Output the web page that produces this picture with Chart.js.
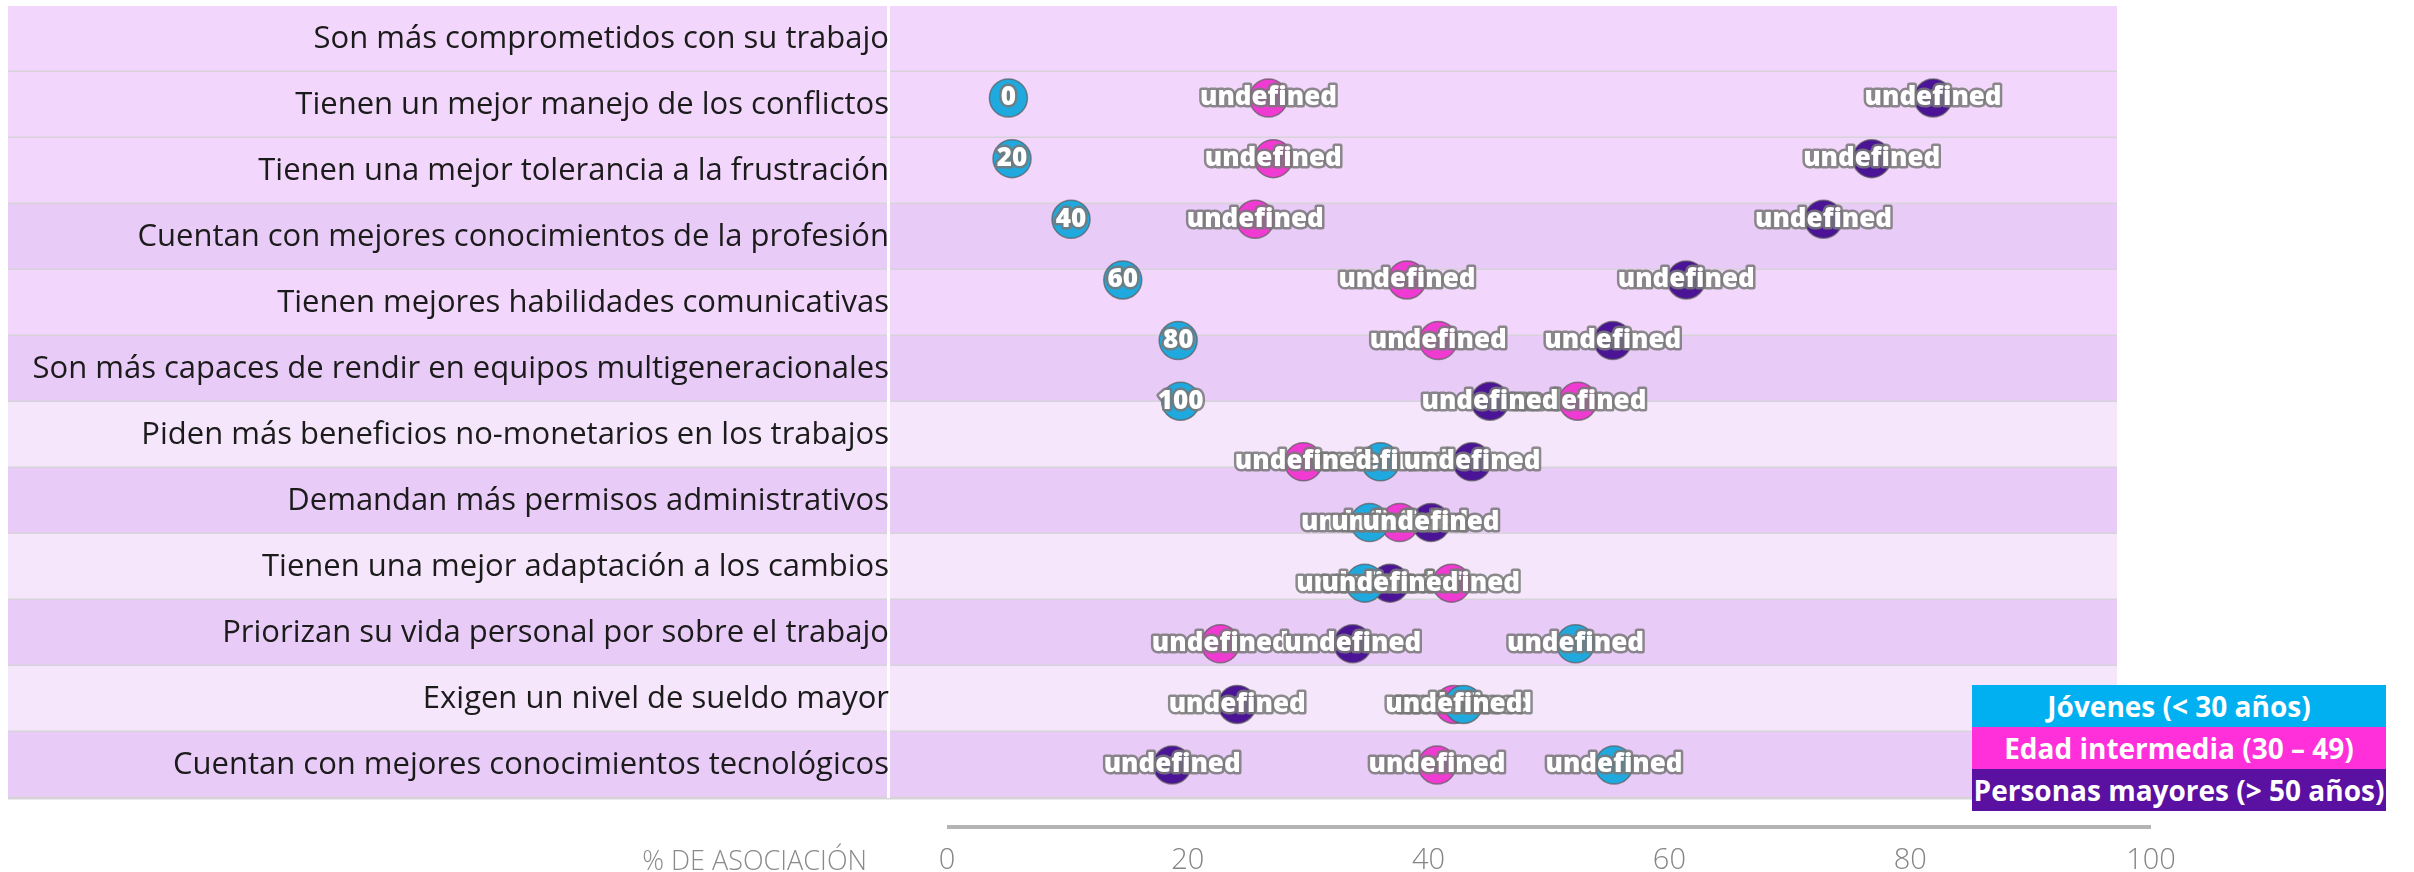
<!DOCTYPE html>
<html lang="es">
<head>
<meta charset="utf-8">
<title>Asociación por generación</title>
<script src="https://cdn.jsdelivr.net/npm/chart.js@4.4.1/dist/chart.umd.min.js"></script>
<style>
    html, body { margin: 0; padding: 0; background: #fff; }
    #wrap { position: relative; width: 2414px; height: 872px; overflow: hidden; font-family: 'Open Sans', sans-serif; }
    #grafico { position: absolute; left: 0; top: 0; }
    .eje-titulo { position: absolute; right: 1547px; top: 843px; line-height: 34px; font-size: 27px; font-weight: 300; color: #8a8a8a; white-space: nowrap; }
    .leyenda { position: absolute; left: 1972px; top: 685px; width: 414px; }
    .leyenda div { height: 42px; line-height: 42px; text-align: center; color: #fff; font-weight: 700; font-size: 28px; white-space: nowrap; overflow: hidden; }
</style>
</head>
<body>
<div id="wrap">
    <canvas id="grafico" width="2414" height="872"></canvas>
    <div class="eje-titulo">% DE ASOCIACIÓN</div>
    <div class="leyenda">
        <div style="background:#00b0f0">Jóvenes (&lt; 30 años)</div>
        <div style="background:#ff2fd9">Edad intermedia (30 – 49)</div>
        <div style="background:#5a10a0">Personas mayores (&gt; 50 años)</div>
    </div>
</div>
<script>
// categorías (filas)
const categorias = [
    'Son más comprometidos con su trabajo',
    'Tienen un mejor manejo de los conflictos',
    'Tienen una mejor tolerancia a la frustración',
    'Cuentan con mejores conocimientos de la profesión',
    'Tienen mejores habilidades comunicativas',
    'Son más capaces de rendir en equipos multigeneracionales',
    'Piden más beneficios no-monetarios en los trabajos',
    'Demandan más permisos administrativos',
    'Tienen una mejor adaptación a los cambios',
    'Priorizan su vida personal por sobre el trabajo',
    'Exigen un nivel de sueldo mayor',
    'Cuentan con mejores conocimientos tecnológicos'
];

// % de asociación por grupo de edad
const jovenes    = [5.1, 5.4, 10.3, 14.6, 19.2, 19.4, 36.0, 35.1, 34.7, 52.2, 42.9, 55.4];
const intermedia = [26.7, 27.1, 25.6, 38.2, 40.8, 52.4, 29.6, 37.6, 41.9, 22.7, 42.1, 40.7];
const mayores    = [81.9, 76.8, 72.8, 61.4, 55.3, 45.1, 43.6, 40.2, 36.8, 33.7, 24.1, 18.7];

// textos sobre cada punto
const etiquetasJovenes = ['0', '20', '40', '60', '80', '100',
    'undefined', 'undefined', 'undefined', 'undefined', 'undefined', 'undefined'];
const etiquetasIntermedia = ['undefined', 'undefined', 'undefined', 'undefined', 'undefined', 'undefined',
    'undefined', 'undefined', 'undefined', 'undefined', 'undefined', 'undefined'];
const etiquetasMayores = ['undefined', 'undefined', 'undefined', 'undefined', 'undefined', 'undefined',
    'undefined', 'undefined', 'undefined', 'undefined', 'undefined', 'undefined'];

// ticks del eje x
const ticksX = [0, 20, 40, 60, 80, 100];

// estilo de las filas
const coloresFila = ['#f2d6fb', '#f2d6fb', '#f2d6fb', '#e9cbf7', '#f2d6fb', '#e9cbf7',
    '#f5e6fc', '#e9cbf7', '#f5e6fc', '#e9cbf7', '#f5e6fc', '#e9cbf7'];

const FUENTE = "'Open Sans', sans-serif";

// fondo de filas, separadores y línea del eje
const fondoFilas = {
    id: 'fondoFilas',
    beforeDraw(chart) {
        const { ctx } = chart;
        const s = chart.scales.y;
        const x = chart.scales.x;
        ctx.save();
        categorias.forEach((c, i) => {
            const top = s.getPixelForValue(i - 0.5);
            const bottom = s.getPixelForValue(i + 0.5);
            ctx.fillStyle = coloresFila[i];
            ctx.fillRect(8, top, 2117 - 8, bottom - top);
            ctx.fillStyle = '#d8d3da';
            ctx.fillRect(8, bottom - 1.5, 2117 - 8, 3);
        });
        ctx.fillStyle = '#ffffff';
        ctx.fillRect(887, s.top, 3, s.bottom - s.top);
        ctx.fillStyle = '#b4b4b4';
        ctx.fillRect(x.left, chart.chartArea.bottom + 27, x.right - x.left, 4);
        ctx.restore();
    }
};

// etiquetas blancas con contorno gris
const etiquetasPuntos = {
    id: 'etiquetasPuntos',
    afterDatasetsDraw(chart) {
        const { ctx } = chart;
        ctx.save();
        ctx.font = '800 26px ' + FUENTE;
        ctx.textAlign = 'center';
        ctx.textBaseline = 'middle';
        ctx.lineJoin = 'round';
        ctx.lineWidth = 5;
        ctx.strokeStyle = 'rgba(120,120,120,0.85)';
        ctx.fillStyle = '#ffffff';
        chart.data.datasets.forEach((ds, d) => {
            chart.getDatasetMeta(d).data.forEach((pt, i) => {
                const txt = ds.etiquetas[i];
                ctx.strokeText(txt, pt.x, pt.y);
                ctx.fillText(txt, pt.x, pt.y);
            });
        });
        ctx.restore();
    }
};

function serie(nombre, valores, etiquetas, color) {
    return {
        label: nombre,
        data: valores.map((v, i) => ({ x: v, y: i })),
        etiquetas: etiquetas,
        yAxisID: 'yPuntos',
        backgroundColor: color,
        borderColor: 'rgba(90,90,90,0.7)',
        borderWidth: 1.5,
        pointRadius: 19,
        pointHoverRadius: 19
    };
}

new Chart(document.getElementById('grafico'), {
    type: 'scatter',
    data: {
        labels: categorias,
        datasets: [
            serie('Jóvenes (< 30 años)', jovenes, etiquetasJovenes, '#1fa9df'),
            serie('Edad intermedia (30 – 49)', intermedia, etiquetasIntermedia, '#f03bd2'),
            serie('Personas mayores (> 50 años)', mayores, etiquetasMayores, '#4b1496')
        ]
    },
    options: {
        responsive: false,
        animation: false,
        layout: { autoPadding: false, padding: { left: 0, right: 263, top: 6, bottom: 0 } },
        plugins: {
            legend: { display: false },
            tooltip: { enabled: false }
        },
        scales: {
            x: {
                type: 'linear',
                min: ticksX[0],
                max: ticksX[ticksX.length - 1],
                afterBuildTicks: s => { s.ticks = ticksX.map(v => ({ value: v })); },
                grid: { display: false },
                border: { display: false },
                ticks: { color: '#858585', font: { family: FUENTE, size: 29, weight: '300' }, padding: 37 },
                afterFit: s => { s.height = 74; }
            },
            y: {
                type: 'category',
                labels: categorias,
                position: 'left',
                offset: true,
                grid: { display: false },
                border: { display: false },
                ticks: { color: '#1b1b1b', font: { family: FUENTE, size: 31, lineHeight: 0.3 }, padding: 50, autoSkip: false },
                afterFit: s => { s.width = 947; s.paddingTop = 0; s.paddingBottom = 0; }
            },
            yPuntos: {
                type: 'linear',
                display: false,
                reverse: true,
                min: -1.517,
                max: 11.543
            }
        }
    },
    plugins: [fondoFilas, etiquetasPuntos]
});
</script>
</body>
</html>
